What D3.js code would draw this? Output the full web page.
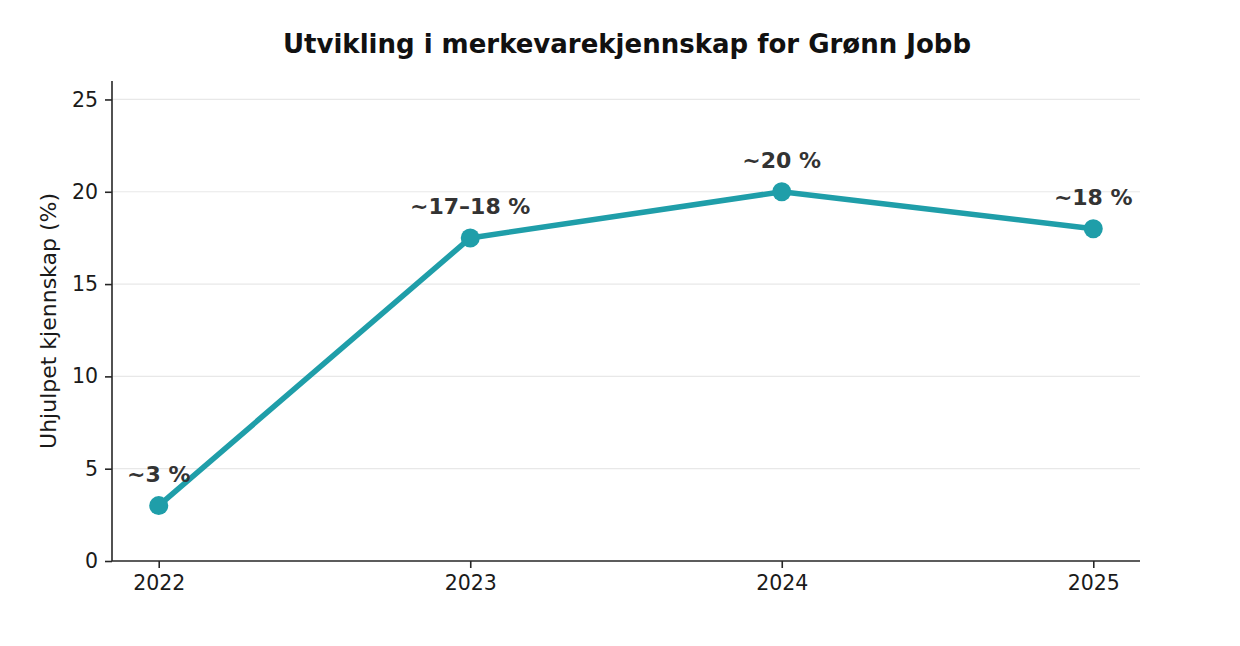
<!DOCTYPE html>
<html>
<head>
<meta charset="utf-8">
<script src="https://cdn.jsdelivr.net/npm/d3@7"></script>
<style>
  html, body { margin: 0; padding: 0; background: #fff; }
  svg { display: block; font-family: "DejaVu Sans", sans-serif; }
</style>
</head>
<body>
<svg id="chart" width="1240" height="646"></svg>
<script>
const years = [2022, 2023, 2024, 2025];
const values = [3, 17.5, 20, 18];
const labels = ["~3 %", "~17–18 %", "~20 %", "~18 %"];
const yTicks = [0, 5, 10, 15, 20, 25];
const title = "Utvikling i merkevarekjennskap for Grønn Jobb";
const yTitle = "Uhjulpet kjennskap (%)";

const svg = d3.select("#chart");
const m = { left: 112, right: 1140, top: 81, bottom: 561 };
const x = d3.scaleLinear().domain([2021.85, 2025.15]).range([m.left, m.right]);
const y = d3.scaleLinear().domain([0, 26]).range([m.bottom, m.top]);
const lineColor = "#1f9ea9";
const axisColor = "#262626";

// gridlines
svg.append("g").selectAll("line").data(yTicks.filter(d => d > 0)).join("line")
  .attr("x1", m.left).attr("x2", m.right)
  .attr("y1", d => y(d)).attr("y2", d => y(d))
  .attr("stroke", "#e8e8e8").attr("stroke-width", 1.2);

// axes
const yAxis = svg.append("g").attr("transform", `translate(${m.left},0)`)
  .call(d3.axisLeft(y).tickValues(yTicks).tickSize(7).tickPadding(7).tickFormat(d3.format("d")));
const xAxis = svg.append("g").attr("transform", `translate(0,${m.bottom})`)
  .call(d3.axisBottom(x).tickValues(years).tickSize(7).tickPadding(7).tickFormat(d3.format("d")));
[xAxis, yAxis].forEach(g => {
  g.select(".domain").attr("stroke", axisColor).attr("stroke-width", 1.6);
  g.selectAll(".tick line").attr("stroke", axisColor).attr("stroke-width", 1.6);
  g.selectAll(".tick text").attr("fill", "#1a1a1a").style("font-size", "20.5px")
    .style("font-family", "'DejaVu Sans', sans-serif");
});
xAxis.select(".domain").attr("d", `M${m.left},0H${m.right}`);
yAxis.select(".domain").attr("d", `M0,${m.bottom}V${m.top}`);

// line
const pts = years.map((yr, i) => ({ yr, v: values[i], lab: labels[i] }));
svg.append("path").datum(pts)
  .attr("fill", "none").attr("stroke", lineColor).attr("stroke-width", 5.5)
  .attr("stroke-linejoin", "round").attr("stroke-linecap", "round")
  .attr("d", d3.line().x(d => x(d.yr)).y(d => y(d.v)));

svg.append("g").selectAll("circle").data(pts).join("circle")
  .attr("cx", d => x(d.yr)).attr("cy", d => y(d.v)).attr("r", 9.5)
  .attr("fill", lineColor);

svg.append("g").selectAll("text").data(pts).join("text")
  .attr("x", d => x(d.yr)).attr("y", d => y(d.v) - 24)
  .attr("text-anchor", "middle")
  .attr("fill", "#333").style("font-size", "22px").style("font-weight", "bold")
  .text(d => d.lab);

// title
svg.append("text").attr("x", 627).attr("y", 53).attr("text-anchor", "middle")
  .style("font-size", "26px").style("font-weight", "bold").attr("fill", "#111")
  .text(title);

// y title
svg.append("text").attr("transform", `translate(56,${(m.top + m.bottom) / 2}) rotate(-90)`)
  .attr("text-anchor", "middle").style("font-size", "22px").attr("fill", "#1a1a1a")
  .text(yTitle);
</script>
</body>
</html>
